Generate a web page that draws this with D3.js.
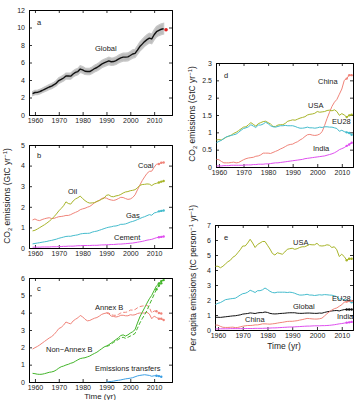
<!DOCTYPE html>
<html><head><meta charset="utf-8">
<script src="https://cdn.jsdelivr.net/npm/d3@7/dist/d3.min.js"></script>
<style>
body{margin:0;background:#fff;}
svg{display:block;font-family:"Liberation Sans",Arial,Helvetica,sans-serif;}
</style></head><body>
<svg id="chart" width="361" height="400"></svg>
<script>
const START_YEAR = 1959;
const global = [2.45,2.57,2.58,2.67,2.80,2.94,3.06,3.20,3.30,3.46, 3.65,3.93,4.07,4.23,4.45,4.45,4.44,4.69,4.87,4.96, 5.25,5.16,5.00,4.97,4.97,5.12,5.31,5.43,5.61,5.82, 5.95,6.07,6.18,6.09,6.11,6.21,6.38,6.52,6.61,6.61, 6.64,6.80,6.97,7.04,7.42,7.82,8.10,8.39,8.61,8.79, 8.69,9.17,9.52,9.68,9.80,9.86];
const globalProjection = [2015, 9.75];
const coal = [1.36,1.41,1.35,1.33,1.38,1.42,1.45,1.47,1.43,1.44, 1.48,1.52,1.53,1.55,1.58,1.58,1.62,1.68,1.73,1.78, 1.86,1.90,1.93,1.98,2.02,2.10,2.20,2.25,2.32,2.40, 2.44,2.42,2.36,2.33,2.31,2.34,2.40,2.46,2.45,2.40, 2.36,2.38,2.45,2.58,2.82,3.05,3.27,3.45,3.62,3.72, 3.73,3.92,4.07,4.08,4.14,4.15];
const oil = [0.83,0.86,0.92,0.99,1.06,1.13,1.21,1.30,1.40,1.52, 1.65,1.80,1.92,2.05,2.24,2.16,2.13,2.28,2.38,2.44, 2.52,2.40,2.30,2.22,2.18,2.19,2.20,2.27,2.30,2.37, 2.42,2.56,2.58,2.50,2.49,2.53,2.55,2.60,2.67,2.72, 2.74,2.78,2.80,2.83,2.92,3.04,3.08,3.09,3.11,3.10, 3.03,3.11,3.14,3.18,3.22,3.25];
const gas = [0.20,0.22,0.24,0.26,0.28,0.30,0.32,0.35,0.37,0.40, 0.43,0.47,0.50,0.53,0.56,0.57,0.57,0.60,0.62,0.64, 0.68,0.70,0.71,0.71,0.72,0.77,0.80,0.82,0.86,0.90, 0.94,0.98,1.01,1.03,1.06,1.07,1.10,1.15,1.15,1.17, 1.21,1.26,1.29,1.33,1.38,1.43,1.48,1.52,1.57,1.62, 1.59,1.70,1.73,1.78,1.80,1.82];
const cement = [0.04,0.04,0.04,0.04,0.05,0.05,0.05,0.05,0.06,0.06, 0.06,0.07,0.07,0.08,0.08,0.09,0.09,0.09,0.10,0.11, 0.11,0.12,0.12,0.12,0.12,0.13,0.13,0.13,0.14,0.15, 0.15,0.16,0.16,0.17,0.17,0.18,0.19,0.19,0.20,0.21, 0.22,0.23,0.24,0.26,0.28,0.30,0.32,0.35,0.38,0.40, 0.42,0.46,0.50,0.52,0.54,0.56];
const annexB = [1.90,1.98,2.05,2.14,2.24,2.34,2.44,2.54,2.62,2.74, 2.90,3.08,3.15,3.28,3.46,3.40,3.35,3.52,3.62,3.70, 3.84,3.76,3.62,3.53,3.55,3.62,3.68,3.72,3.80,3.90, 3.95,3.98,3.93,3.80,3.78,3.75,3.78,3.85,3.85,3.82, 3.82,3.88,3.86,3.88,3.95,3.98,3.98,3.98,4.02,3.92, 3.65,3.80,3.72,3.65,3.65,3.58];
const nonAnnexB = [0.50,0.48,0.45,0.44,0.45,0.48,0.52,0.56,0.58,0.62, 0.70,0.80,0.88,0.92,0.98,1.02,1.08,1.12,1.20,1.28, 1.35,1.38,1.40,1.45,1.50,1.58,1.65,1.72,1.82,1.92, 2.02,2.08,2.15,2.25,2.35,2.45,2.55,2.68,2.72,2.65, 2.72,2.82,2.90,3.02,3.40,3.75,4.02,4.28,4.55,4.80, 5.00,5.28,5.55,5.68,5.82,5.88];
const CONS_START = 1990;
const annexBCons = [4.00,3.98,3.88,3.85,3.85,3.90,3.98,4.02,4.02,4.05, 4.15,4.15,4.18,4.28,4.35,4.38,4.40,4.42,4.30,3.98, 4.10,4.08,3.98,3.95];
const nonAnnexBCons = [2.05,2.10,2.20,2.28,2.38,2.45,2.55,2.58,2.52,2.58, 2.65,2.72,2.80,3.10,3.40,3.65,3.88,4.12,4.45,4.75, 5.05,5.35,5.55,5.70];
const transfers = [0.00,0.02,0.03,0.05,0.08,0.10,0.12,0.15,0.18,0.20, 0.22,0.25,0.30,0.35,0.38,0.40,0.42,0.40,0.38,0.33, 0.36,0.36,0.34,0.30];
const china = [0.22,0.21,0.16,0.12,0.12,0.12,0.13,0.14,0.12,0.13, 0.17,0.21,0.24,0.26,0.27,0.28,0.31,0.32,0.35,0.40, 0.40,0.40,0.39,0.42,0.45,0.48,0.52,0.55,0.59,0.63, 0.65,0.66,0.70,0.73,0.78,0.82,0.88,0.93,0.94,0.92, 0.91,0.92,0.95,1.02,1.20,1.40,1.58,1.75,1.87,1.95, 2.10,2.25,2.50,2.55,2.65,2.65];
const usa = [0.78,0.79,0.78,0.82,0.86,0.89,0.92,0.97,1.00,1.05, 1.10,1.15,1.16,1.22,1.28,1.23,1.18,1.25,1.28,1.31, 1.32,1.28,1.24,1.17,1.17,1.21,1.22,1.22,1.26,1.32, 1.34,1.36,1.35,1.38,1.41,1.43,1.45,1.50,1.52,1.53, 1.55,1.60,1.58,1.59,1.60,1.63,1.64,1.62,1.65,1.60, 1.49,1.54,1.50,1.44,1.49,1.51];
const eu28 = [0.70,0.74,0.77,0.82,0.87,0.89,0.91,0.93,0.95,1.00, 1.06,1.11,1.13,1.16,1.22,1.18,1.14,1.21,1.21,1.24, 1.29,1.25,1.19,1.16,1.15,1.17,1.19,1.19,1.20,1.19, 1.19,1.19,1.17,1.14,1.12,1.12,1.13,1.15,1.13,1.13, 1.12,1.13,1.15,1.14,1.16,1.16,1.15,1.15,1.13,1.11, 1.03,1.06,1.02,1.00,0.98,0.93];
const india = [0.03,0.03,0.03,0.04,0.04,0.04,0.05,0.05,0.05,0.05, 0.05,0.05,0.06,0.06,0.06,0.07,0.07,0.08,0.08,0.08, 0.09,0.09,0.10,0.11,0.12,0.12,0.13,0.14,0.15,0.16, 0.17,0.18,0.19,0.20,0.21,0.22,0.24,0.25,0.26,0.27, 0.28,0.29,0.30,0.31,0.32,0.34,0.36,0.38,0.41,0.45, 0.50,0.53,0.56,0.61,0.65,0.70];
const usaPC = [4.25,4.25,4.15,4.25,4.40,4.55,4.65,4.85,4.95,5.15, 5.35,5.60,5.60,5.80,6.05,5.80,5.50,5.70,5.80,5.90, 5.90,5.65,5.40,5.10,5.00,5.15,5.10,5.05,5.20,5.38, 5.42,5.45,5.38,5.42,5.50,5.55,5.55,5.62,5.70,5.68, 5.68,5.78,5.62,5.60,5.62,5.68,5.65,5.50,5.55,5.35, 4.90,5.05,4.90,4.65,4.75,4.75];
const eu28PC = [1.70,1.78,1.83,1.92,2.02,2.05,2.08,2.10,2.12,2.22, 2.33,2.42,2.45,2.52,2.65,2.58,2.50,2.62,2.62,2.68, 2.80,2.70,2.58,2.50,2.48,2.52,2.52,2.52,2.52,2.50, 2.52,2.50,2.45,2.38,2.33,2.33,2.35,2.38,2.33,2.33, 2.30,2.32,2.35,2.33,2.36,2.35,2.33,2.32,2.28,2.22, 2.05,2.10,2.00,1.97,1.93,1.85];
const globalPC = [0.85,0.85,0.84,0.86,0.88,0.90,0.92,0.94,0.95,0.98, 1.01,1.06,1.08,1.10,1.14,1.12,1.10,1.14,1.16,1.16, 1.20,1.17,1.11,1.08,1.07,1.08,1.10,1.11,1.12,1.14, 1.15,1.15,1.15,1.12,1.11,1.11,1.12,1.13,1.13,1.12, 1.11,1.11,1.13,1.12,1.17,1.21,1.24,1.27,1.29,1.30, 1.27,1.32,1.36,1.37,1.37,1.37];
const chinaPC = [0.33,0.32,0.24,0.18,0.17,0.17,0.18,0.19,0.16,0.17, 0.21,0.25,0.28,0.30,0.30,0.31,0.34,0.34,0.37,0.41, 0.41,0.40,0.39,0.41,0.43,0.46,0.49,0.51,0.54,0.57, 0.58,0.58,0.60,0.62,0.66,0.69,0.73,0.77,0.76,0.74, 0.73,0.73,0.75,0.79,0.93,1.08,1.21,1.33,1.42,1.47, 1.58,1.68,1.86,1.89,1.95,1.94];
const indiaPC = [0.07,0.07,0.08,0.08,0.08,0.08,0.09,0.09,0.09,0.09, 0.09,0.09,0.10,0.10,0.10,0.10,0.11,0.11,0.11,0.11, 0.12,0.12,0.13,0.14,0.14,0.15,0.16,0.17,0.18,0.19, 0.20,0.20,0.21,0.22,0.23,0.24,0.25,0.26,0.26,0.27, 0.28,0.28,0.28,0.29,0.29,0.30,0.31,0.33,0.35,0.38, 0.41,0.43,0.46,0.49,0.51,0.54];
const xTicks = [1960,1970,1980,1990,2000,2010];
const yTicksA = [0,2,4,6,8,10,12];
const yTicksB = [0,1,2,3,4,5];
const yTicksC = [0,1,2,3,4,5,6];
const yTicksD = [0,0.5,1,1.5,2,2.5,3];
const yTicksE = [0,1,2,3,4,5,6,7];

const C = {salmon:"#f0847a", olive:"#a8b52a", cyan:"#45bccd", magenta:"#df4fef", green:"#43b52a", blue:"#3c9fe4", black:"#111"};
const svg = d3.select("#chart");
const TXT = "#222";

function toPts(vals, start){ return vals.map((v,i)=>[start+i, v]); }

function panel(cfg){
  const x = d3.scaleLinear().domain(cfg.xd).range([cfg.l, cfg.r]);
  const y = d3.scaleLinear().domain(cfg.yd).range([cfg.b, cfg.t]);
  const g = svg.append("g");
  const fmt = cfg.fmt || (d=>d);
  g.append("g").attr("transform",`translate(0,${cfg.b})`)
    .call(d3.axisBottom(x).tickValues(xTicks).tickSize(-3).tickPadding(3).tickFormat(d3.format("d")));
  g.append("g").attr("transform",`translate(0,${cfg.t})`)
    .call(d3.axisTop(x).tickValues(xTicks).tickSize(-3).tickFormat(""));
  g.append("g").attr("transform",`translate(${cfg.l},0)`)
    .call(d3.axisLeft(y).tickValues(cfg.yt).tickSize(-3).tickPadding(4).tickFormat(fmt));
  g.append("g").attr("transform",`translate(${cfg.r},0)`)
    .call(d3.axisRight(y).tickValues(cfg.yt).tickSize(-3).tickFormat(""));
  g.selectAll(".domain").attr("stroke","#000").attr("stroke-width",1);
  g.selectAll(".tick line").attr("stroke","#000").attr("stroke-width",0.8);
  g.selectAll(".tick text").attr("font-size","7px").attr("fill",TXT).attr("font-family","Liberation Sans, Arial, sans-serif");
  const line = d3.line().x(d=>x(d[0])).y(d=>y(d[1]));
  if(cfg.band){
    const pts = toPts(cfg.band, START_YEAR);
    g.append("path").datum(pts)
      .attr("d", d3.area().x(d=>x(d[0])).y0(d=>y(d[1]-0.05*d[1]-0.12)).y1(d=>y(d[1]+0.05*d[1]+0.12)))
      .attr("fill","#bdbdbd").attr("stroke","#c8c8c8").attr("stroke-width",1.2);
  }
  (cfg.series||[]).forEach(s=>{
    const pts = toPts(s.v, s.start||START_YEAR);
    g.append("path").datum(pts).attr("d", line).attr("fill","none")
      .attr("stroke", s.c).attr("stroke-width", s.w||1)
      .attr("stroke-dasharray", s.dash||null).attr("stroke-linejoin","round");
    if(s.dots!==false){
      g.selectAll(null).data(pts.slice(-3)).enter().append("circle")
        .attr("cx",d=>x(d[0])).attr("cy",d=>y(d[1])).attr("r",1.2).attr("fill",s.c);
    }
  });
  (cfg.labels||[]).forEach(L=>{
    g.append("text").attr("x",L[1]).attr("y",L[2]).attr("font-size","7.5px").attr("fill",TXT).text(L[0]);
  });
  return {x,y,g};
}

const xdL = [1957.5, 2017.5];
const xdR = [1958.8, 2014.55];

const pa = panel({l:29,r:172,t:10,b:115,xd:xdL,yd:[0,12],yt:yTicksA,band:global,
  series:[{v:global,c:C.black,w:1.4,dots:false}],
  labels:[["a",37,25],["Global",95,51]]});
pa.g.append("circle").attr("cx",pa.x(globalProjection[0])).attr("cy",pa.y(globalProjection[1])).attr("r",1.8).attr("fill","#e02020");

panel({l:29,r:172,t:145,b:248,xd:xdL,yd:[0,5],yt:yTicksB,
  series:[{v:coal,c:C.salmon},{v:oil,c:C.olive},{v:gas,c:C.cyan},{v:cement,c:C.magenta}],
  labels:[["b",37,158],["Coal",138,168],["Oil",68,194],["Gas",126,218],["Cement",114,240]]});

panel({l:29,r:172,t:278,b:382,xd:xdL,yd:[0,6],yt:yTicksC,
  series:[{v:annexB,c:C.salmon},{v:nonAnnexB,c:C.green},
    {v:annexBCons,c:C.salmon,start:CONS_START,dash:"4,2"},
    {v:nonAnnexBCons,c:C.green,start:CONS_START,dash:"4,2"},
    {v:transfers,c:C.blue,start:CONS_START}],
  labels:[["c",37,291],["Annex B",95,310],["Non\u2212Annex B",46,352],["Emissions transfers",95,371]]});

panel({l:216,r:353,t:63,b:167,xd:xdR,yd:[0,3],yt:yTicksD,fmt:d3.format("~g"),
  series:[{v:china,c:C.salmon},{v:usa,c:C.olive},{v:eu28,c:C.cyan},{v:india,c:C.magenta}],
  labels:[["d",224,78],["China",318,84],["USA",308,108],["EU28",332,124],["India",313,151]]});

panel({l:215,r:353,t:225,b:330,xd:xdR,yd:[0,7],yt:yTicksE,
  series:[{v:usaPC,c:C.olive},{v:eu28PC,c:C.cyan},{v:globalPC,c:C.black},{v:chinaPC,c:C.salmon},{v:indiaPC,c:C.magenta}],
  labels:[["e",224,240],["USA",293,245],["EU28",332,301],["Global",293,309],["China",245,322],["India",337,319]]});

function co2Label(x, y){
  const t = svg.append("text").attr("transform",`translate(${x},${y}) rotate(-90)`)
    .attr("text-anchor","middle").attr("font-size","8.5px").attr("fill",TXT);
  t.append("tspan").text("CO");
  t.append("tspan").attr("font-size","6px").attr("dy","2").text("2");
  t.append("tspan").attr("dy","-2").text(" emissions (GtC yr");
  t.append("tspan").attr("font-size","6px").attr("dy","-3").text("\u22121");
  t.append("tspan").attr("dy","3").text(")");
}
co2Label(10, 196);
co2Label(195, 114);
{
  const t = svg.append("text").attr("transform",`translate(196,278) rotate(-90)`)
    .attr("text-anchor","middle").attr("font-size","8.5px").attr("fill",TXT);
  t.append("tspan").text("Per capita emissions (tC person");
  t.append("tspan").attr("font-size","6px").attr("dy","-3").text("\u22121");
  t.append("tspan").attr("dy","3").text(" yr");
  t.append("tspan").attr("font-size","6px").attr("dy","-3").text("\u22121");
  t.append("tspan").attr("dy","3").text(")");
}
svg.append("text").attr("x",100).attr("y",399).attr("text-anchor","middle").attr("font-size","8px").attr("fill",TXT).text("Time (yr)");
svg.append("text").attr("x",284).attr("y",349).attr("text-anchor","middle").attr("font-size","8.5px").attr("fill",TXT).text("Time (yr)");
</script>
</body></html>
